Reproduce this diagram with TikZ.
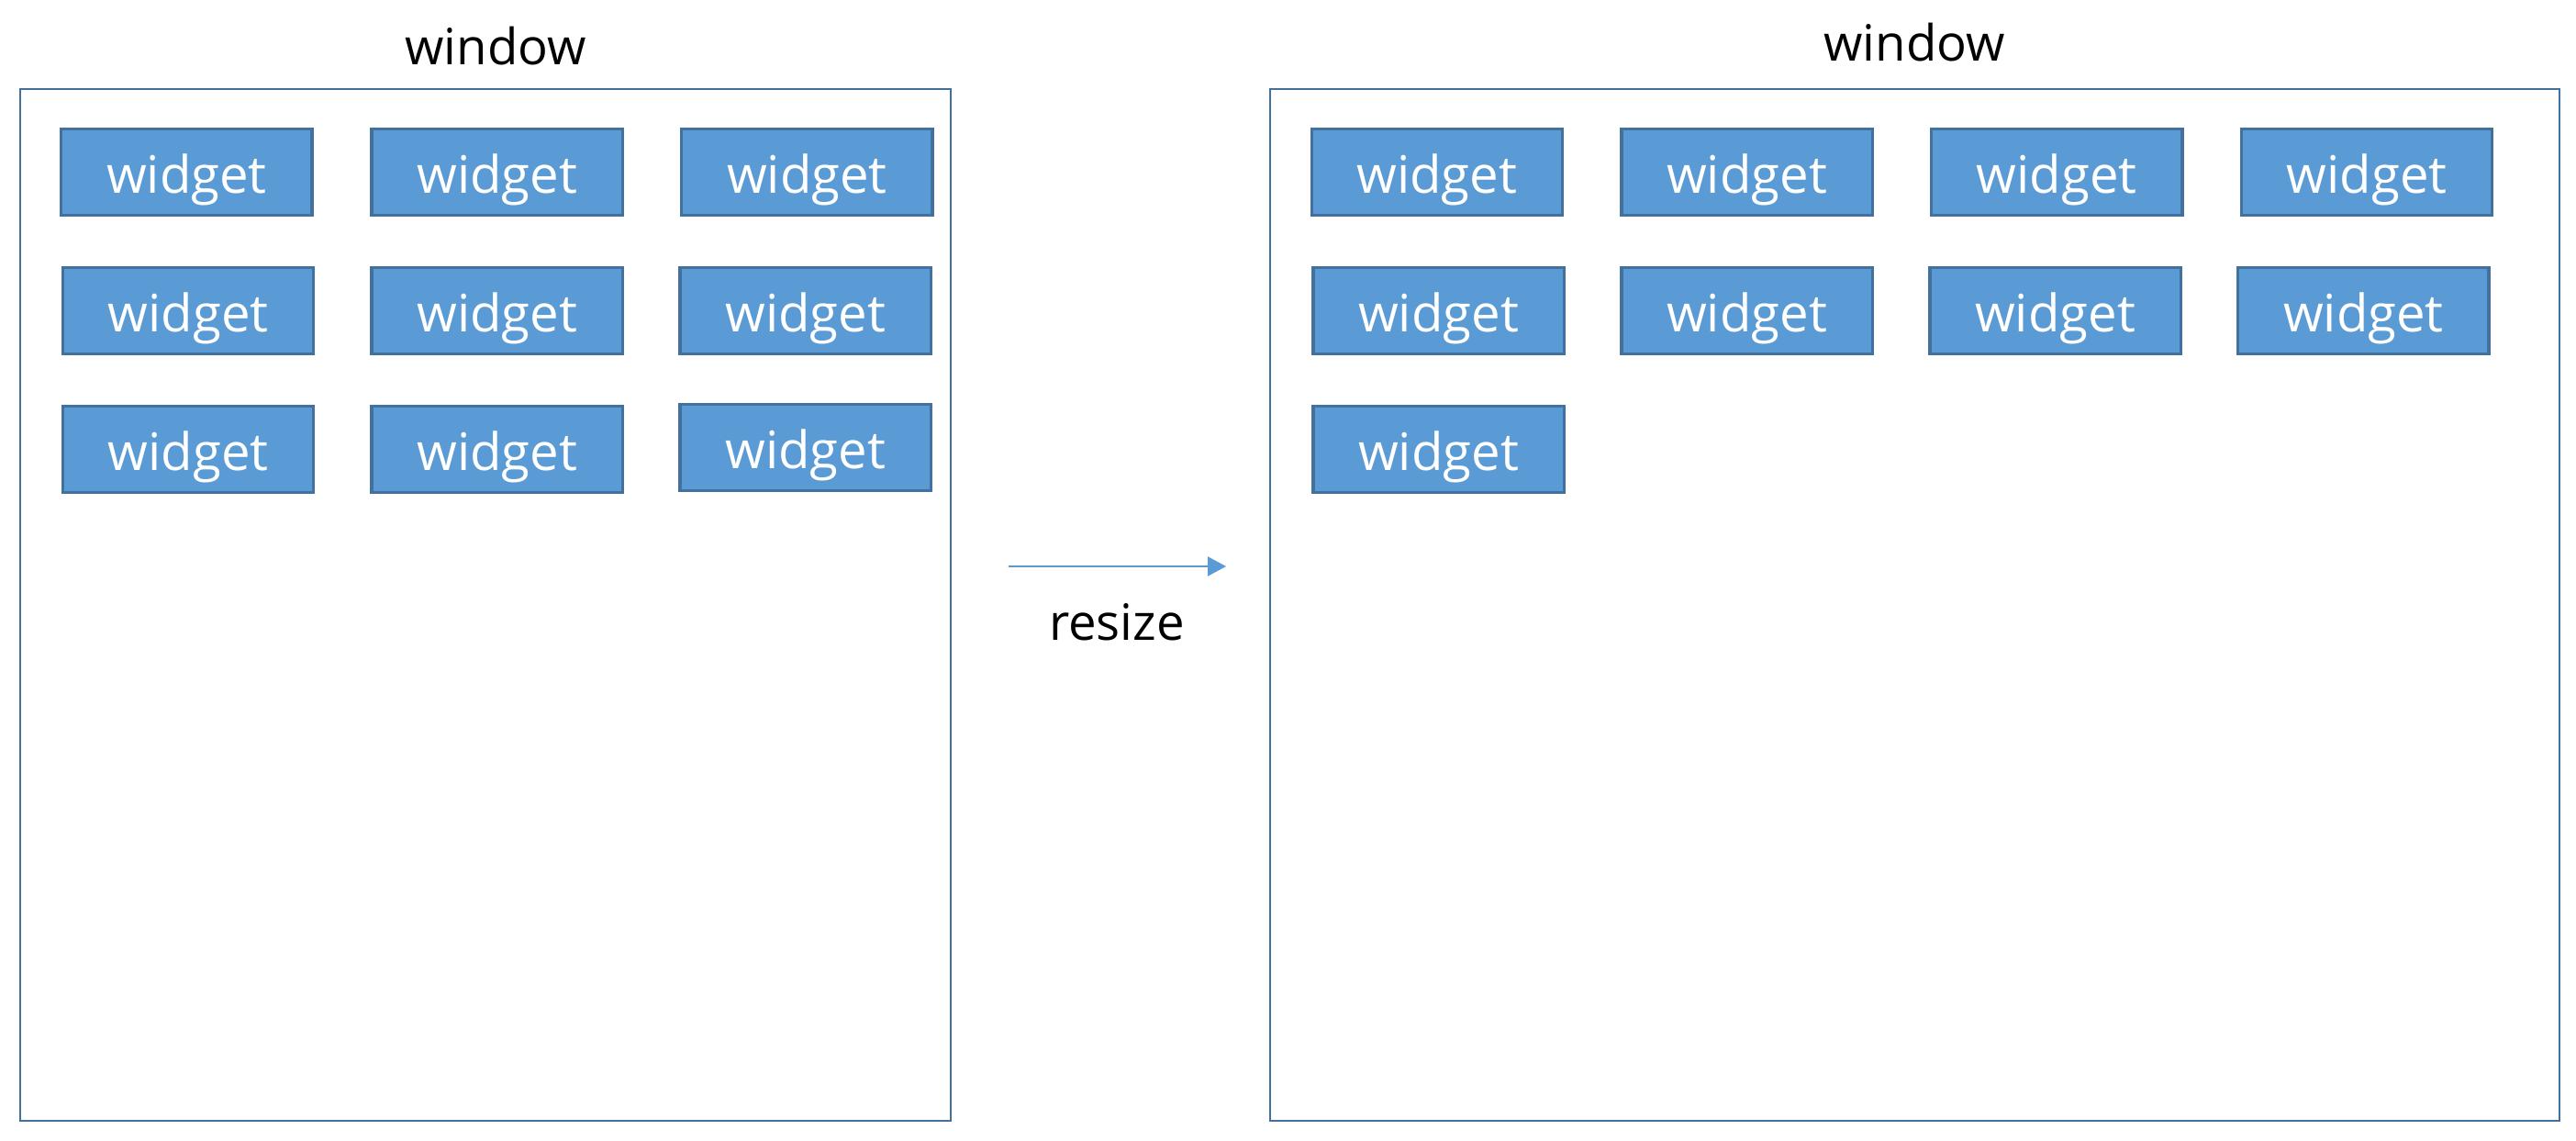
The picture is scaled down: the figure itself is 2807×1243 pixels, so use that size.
\documentclass[tikz,border=0pt]{standalone}
\usepackage{fontspec}
\setmainfont{Open Sans}
\usetikzlibrary{arrows.meta}
\definecolor{wfill}{HTML}{5B9BD5}
\definecolor{wline}{HTML}{41719C}
\begin{document}
\begin{tikzpicture}[x=0.01cm,y=-0.01cm,
  widget/.style={draw=wline,fill=wfill,line width=0.9pt,minimum width=2.73cm,minimum height=0.94cm,inner sep=0pt,text=white,font=\fontsize{16}{19}\selectfont,text height=14pt,text depth=0.8pt},
  winbox/.style={draw=wline,line width=0.8pt},
  wlabel/.style={anchor=base,inner sep=0pt,font=\fontsize{15.5}{18}\selectfont}]
\useasboundingbox[fill=white] (0,0) rectangle (2807,1243);
% windows
\draw[winbox] (22,97) rectangle (1036,1221);
\draw[winbox] (1384,97) rectangle (2789,1221);
\node[wlabel] (wl) at (540,71) {window};
\node[wlabel] (wr) at (2086,67) {window};
% left widgets
\node[widget] (l11) at (203.4,187.4) {widget};
\node[widget] (l12) at (541.6,187.4) {widget};
\node[widget] (l13) at (879.4,187.4) {widget};
\node[widget] (l21) at (205.2,338.4) {widget};
\node[widget] (l22) at (541.6,338.4) {widget};
\node[widget] (l23) at (877.6,338.4) {widget};
\node[widget] (l31) at (205.2,489.5) {widget};
\node[widget] (l32) at (541.6,489.5) {widget};
\node[widget] (l33) at (877.6,487.3) {widget};
% right widgets
\node[widget] (r11) at (1565.8,187.4) {widget};
\node[widget] (r12) at (1903.5,187.4) {widget};
\node[widget] (r13) at (2241.3,187.4) {widget};
\node[widget] (r14) at (2579,187.4) {widget};
\node[widget] (r21) at (1567.5,338.4) {widget};
\node[widget] (r22) at (1903.5,338.4) {widget};
\node[widget] (r23) at (2239.5,338.4) {widget};
\node[widget] (r24) at (2575.4,338.4) {widget};
\node[widget] (r31) at (1567.5,489.5) {widget};
% arrow
\coordinate (a1) at (1099,617);
\coordinate (a2) at (1336,617);
\draw[wfill,line width=0.6pt,-{Triangle[length=0.2cm,width=0.21cm]}] (a1) -- (a2);
\node[wlabel] (rs) at (1217,697) {resize};
\end{tikzpicture}
\end{document}
